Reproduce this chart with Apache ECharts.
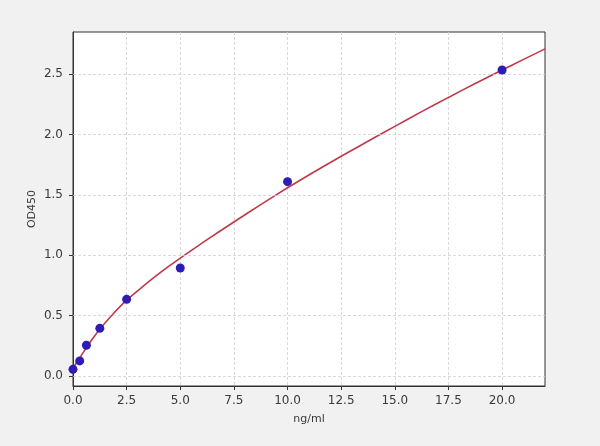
<!DOCTYPE html>
<html>
<head>
<meta charset="utf-8">
<script src="https://cdn.jsdelivr.net/npm/echarts@6/dist/echarts.min.js"></script>
<style>html,body{margin:0;padding:0;background:#f1f1f1;}#c{width:600px;height:446px;}</style>
</head>
<body>
<div id="c"></div>
<script>
// Measured standards
const concentrations = [0, 0.3125, 0.625, 1.25, 2.5, 5, 10, 20];
const odValues = [0.055, 0.125, 0.255, 0.395, 0.635, 0.895, 1.61, 2.535];
// Fitted curve
const curveX = [0, 0.3125, 0.625, 0.9375, 1.25, 1.875, 2.5, 3.125, 3.75, 4.375, 5, 6.25, 7.5, 8.75, 10, 11.25, 12.5, 13.75, 15, 16.25, 17.5, 18.75, 20, 21, 22];
const curveY = [0.065, 0.15, 0.235, 0.315, 0.388, 0.515, 0.628, 0.722, 0.812, 0.897, 0.977, 1.13, 1.276, 1.42, 1.56, 1.692, 1.82, 1.945, 2.068, 2.19, 2.308, 2.424, 2.535, 2.623, 2.71];
// Tick labels
const xTicks = [0, 2.5, 5, 7.5, 10, 12.5, 15, 17.5, 20];
const yTicks = [0, 0.5, 1.0, 1.5, 2.0, 2.5];

const chart = echarts.init(document.getElementById('c'), null, {renderer: 'canvas'});
const font = 'DejaVu Sans';
const txt = '#3a3a3a';
const gridLine = {show: true, lineStyle: {color: '#cfcfcf', type: [3, 2], width: 0.8}};
chart.setOption({
  backgroundColor: '#f1f1f1',
  animation: false,
  grid: {left: 73, right: 55, top: 32, bottom: 60, show: true, backgroundColor: '#ffffff', borderColor: '#333333', borderWidth: 1},
  xAxis: {
    type: 'value', min: 0, max: 22,
    name: 'ng/ml', nameLocation: 'middle', nameGap: 28, nameMoveOverlap: false,
    nameTextStyle: {fontFamily: font, fontSize: 11, color: txt},
    axisLine: {show: true, onZero: false, lineStyle: {color: '#333', width: 1}},
    axisTick: {show: true, length: 4, customValues: xTicks, lineStyle: {color: '#333'}},
    axisLabel: {customValues: xTicks, fontFamily: font, fontSize: 12, color: txt, margin: 9, formatter: v => v.toFixed(1)},
    splitLine: gridLine
  },
  yAxis: {
    type: 'value', min: -0.083, max: 2.85,
    name: 'OD450', nameLocation: 'middle', nameGap: 35, nameRotate: 90, nameMoveOverlap: false,
    nameTextStyle: {fontFamily: font, fontSize: 11, color: txt},
    axisLine: {show: true, onZero: false, lineStyle: {color: '#333', width: 1}},
    axisTick: {show: true, length: 4, customValues: yTicks, lineStyle: {color: '#333'}},
    axisLabel: {customValues: yTicks, fontFamily: font, fontSize: 12, color: txt, margin: 10, formatter: v => v.toFixed(1)},
    splitLine: {show: false}
  },
  series: [
    {
      type: 'line', data: curveX.map((x, i) => [x, curveY[i]]), smooth: 0.2, showSymbol: false,
      lineStyle: {color: '#c0394a', width: 1.6}, z: 3,
      markLine: {
        silent: true, symbol: 'none', label: {show: false},
        lineStyle: {color: '#cfcfcf', type: [3, 2], width: 0.8},
        data: yTicks.map(v => ({yAxis: v}))
      }
    },
    {
      type: 'scatter', data: concentrations.map((x, i) => [x, odValues[i]]),
      symbolSize: 9, itemStyle: {color: '#2f1bb5', opacity: 1}, z: 4
    }
  ]
});
</script>
</body>
</html>
